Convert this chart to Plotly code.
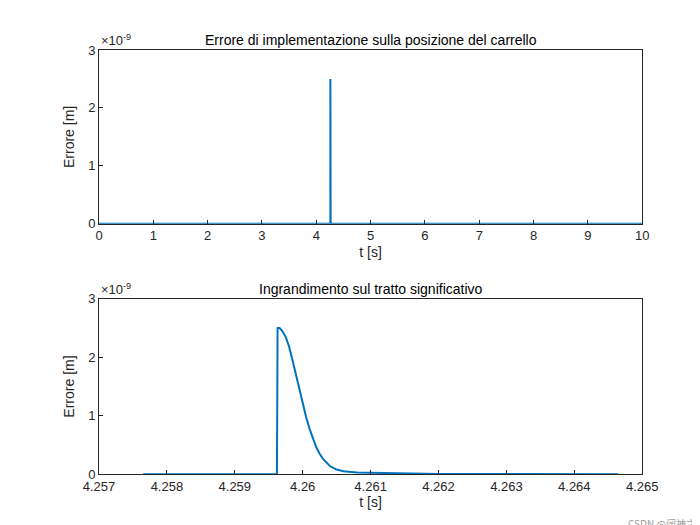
import plotly.graph_objects as go
from plotly.subplots import make_subplots

# zoomed data (s, error in 1e-9 m)
t_zoom = [4.25765, 4.2596, 4.25962, 4.259625, 4.25963, 4.25966, 4.2597, 4.25975, 4.2598, 4.25985,
          4.2599, 4.25995, 4.26, 4.26005, 4.2601, 4.26015, 4.2602, 4.26025, 4.2603, 4.2604,
          4.2605, 4.2606, 4.2607, 4.2608, 4.261, 4.2612, 4.2614, 4.2616, 4.262, 4.26465]
e_zoom = [0, 0, 0, 1.05, 2.5, 2.5, 2.45, 2.35, 2.18, 1.95,
          1.7, 1.45, 1.2, 0.98, 0.78, 0.6, 0.46, 0.35, 0.26, 0.14,
          0.08, 0.05, 0.035, 0.03, 0.025, 0.02, 0.015, 0.01, 0.005, 0.0]
t_full_start = [0.0]
t_full_end = [10.0]

blue = "#0072BD"
scale = 1e-9
t_top = t_full_start + t_zoom + t_full_end
e_top = [0] + e_zoom + [0]

fig = make_subplots(rows=2, cols=1)
fig.add_trace(go.Scatter(x=t_top, y=[v * scale for v in e_top], mode="lines",
                         line=dict(color=blue, width=2)), row=1, col=1)
fig.add_trace(go.Scatter(x=t_zoom, y=[v * scale for v in e_zoom], mode="lines",
                         line=dict(color=blue, width=2)), row=2, col=1)

ax = dict(showline=True, mirror=True, linecolor="#262626", linewidth=1, ticks="inside",
          ticklen=4, tickcolor="#262626", showgrid=False, zeroline=False, automargin=False,
          tickfont=dict(size=13, color="#262626"))
fig.update_xaxes(**ax)
fig.update_yaxes(**ax)
fig.update_xaxes(range=[0, 10], tickvals=list(range(11)), domain=[0.13, 0.906],
                 title=dict(text="t [s]", standoff=4, font=dict(size=14)), row=1, col=1)
fig.update_xaxes(range=[4.257, 4.265], tickvals=[4.257 + i * 0.001 for i in range(9)],
                 ticktext=["4.257", "4.258", "4.259", "4.26", "4.261", "4.262", "4.263", "4.264", "4.265"],
                 domain=[0.13, 0.906], title=dict(text="t [s]", standoff=4, font=dict(size=14)), row=2, col=1)
for r, dom in [(1, [0.589, 0.92]), (2, [0.112, 0.446])]:
    fig.update_yaxes(range=[0, 3e-9], tickvals=[0, 1e-9, 2e-9, 3e-9], ticktext=["0", "1", "2", "3"],
                     domain=dom, title=dict(text="Errore [m]", standoff=10, font=dict(size=14)), row=r, col=1)

for y, txt in [(0.92, "Errore di implementazione sulla posizione del carrello"),
               (0.446, "Ingrandimento sul tratto significativo")]:
    fig.add_annotation(x=0.518, y=y, xref="paper", yref="paper", text=txt, showarrow=False,
                       yanchor="bottom", font=dict(size=14, color="black"))
    fig.add_annotation(x=0.13, y=y, xref="paper", yref="paper", text="×10<sup>-9</sup>", showarrow=False,
                       xanchor="left", yanchor="bottom", font=dict(size=13, color="#262626"))
fig.add_annotation(x=1, y=0, xref="paper", yref="paper", text="CSDN @阔神之光", showarrow=False,
                   xanchor="right", yanchor="bottom", font=dict(size=10, color="#999999",
                   family="Noto Sans CJK SC"))

fig.update_layout(width=700, height=525, showlegend=False, plot_bgcolor="white",
                  paper_bgcolor="white", margin=dict(l=0, r=0, t=0, b=0),
                  font=dict(family="Liberation Sans", color="#262626"))
fig.write_html("out.html")
